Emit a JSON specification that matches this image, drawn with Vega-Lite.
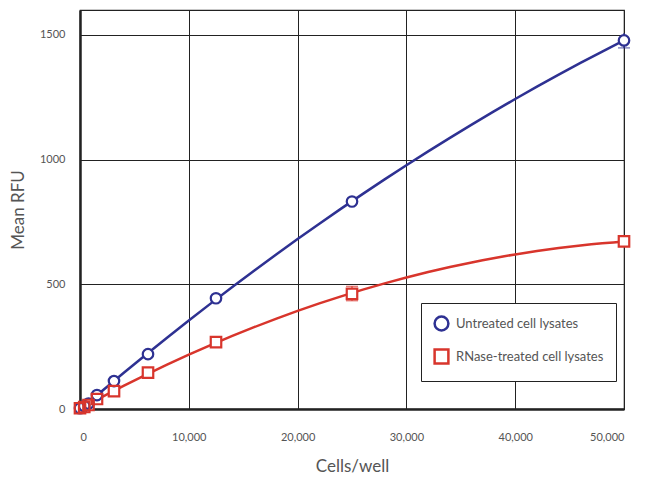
{
  "$schema": "https://vega.github.io/schema/vega-lite/v6.json",
  "autosize": {"type": "none"},
  "width": 544,
  "height": 399,
  "padding": {"left": 80, "top": 10, "right": 23, "bottom": 70},
  "config": {
    "font": "Lato",
    "view": {"stroke": "#222", "strokeWidth": 1.2},
    "axis": {"labelFont": "Lato", "titleFont": "Lato", "labelColor": "#555", "titleColor": "#555", "titleFontWeight": "normal"},
    "legend": {"title": null, "orient": "none", "legendX": 341, "legendY": 293, "padding": 12, "rowPadding": 8, "strokeColor": "#222", "fillColor": "white", "labelFont": "Lato", "labelFontSize": 13, "labelColor": "#555", "labelOffset": 6, "symbolSize": 190, "symbolStrokeWidth": 2.5}
  },
  "data": {
    "values": [
      {"series": "Untreated cell lysates", "cells": 0, "rfu": 3},
      {"series": "Untreated cell lysates", "cells": 390, "rfu": 12},
      {"series": "Untreated cell lysates", "cells": 781, "rfu": 22},
      {"series": "Untreated cell lysates", "cells": 1562, "rfu": 56},
      {"series": "Untreated cell lysates", "cells": 3125, "rfu": 112},
      {"series": "Untreated cell lysates", "cells": 6250, "rfu": 220},
      {"series": "Untreated cell lysates", "cells": 12500, "rfu": 444},
      {"series": "Untreated cell lysates", "cells": 25000, "rfu": 832},
      {"series": "Untreated cell lysates", "cells": 50000, "rfu": 1478, "lo": 1448, "hi": 1508},
      {"series": "RNase-treated cell lysates", "cells": 0, "rfu": 3},
      {"series": "RNase-treated cell lysates", "cells": 390, "rfu": 8},
      {"series": "RNase-treated cell lysates", "cells": 781, "rfu": 16},
      {"series": "RNase-treated cell lysates", "cells": 1562, "rfu": 40},
      {"series": "RNase-treated cell lysates", "cells": 3125, "rfu": 72},
      {"series": "RNase-treated cell lysates", "cells": 6250, "rfu": 146},
      {"series": "RNase-treated cell lysates", "cells": 12500, "rfu": 268},
      {"series": "RNase-treated cell lysates", "cells": 25000, "rfu": 462, "lo": 434, "hi": 492},
      {"series": "RNase-treated cell lysates", "cells": 50000, "rfu": 672}
    ]
  },
  "layer": [
    {
      "transform": [{"regression": "rfu", "on": "cells", "groupby": ["series"], "method": "poly", "order": 2, "extent": [0, 50000]}],
      "mark": {"type": "line", "strokeWidth": 2.5, "clip": true},
      "encoding": {
        "x": {"field": "cells", "type": "quantitative", "scale": {"domain": [0, 50000], "nice": false},
          "axis": {"title": "Cells/well", "values": [0, 10000, 20000, 30000, 40000, 50000], "format": ",d", "grid": true, "gridColor": "#222", "gridOpacity": 1, "gridWidth": 1, "ticks": false, "domainColor": "#222", "domainWidth": 2.5, "labelPadding": 22, "labelFontSize": 11, "titleFontSize": 17, "titlePadding": 16}},
        "y": {"field": "rfu", "type": "quantitative", "scale": {"domain": [0, 1600], "nice": false},
          "axis": {"title": "Mean RFU", "values": [0, 500, 1000, 1500], "format": "d", "grid": true, "gridColor": "#222", "gridOpacity": 1, "gridWidth": 1, "ticks": false, "domainColor": "#222", "domainWidth": 2.5, "labelPadding": 15, "labelFontSize": 11, "titleFontSize": 17, "titlePadding": 12}},
        "color": {"field": "series", "type": "nominal", "scale": {"domain": ["Untreated cell lysates", "RNase-treated cell lysates"], "range": ["#2E3192", "#D8352C"]}}
      }
    },
    {
      "transform": [{"filter": "datum.lo != null"}],
      "mark": {"type": "rule", "strokeWidth": 1.2},
      "encoding": {
        "x": {"field": "cells", "type": "quantitative"},
        "y": {"field": "lo", "type": "quantitative"},
        "y2": {"field": "hi"},
        "color": {"field": "series", "type": "nominal"}
      }
    },
    {
      "transform": [{"filter": "datum.lo != null && datum.cells == 50000"}],
      "mark": {"type": "tick", "orient": "horizontal", "size": 12, "thickness": 1.2, "color": "#2E3192"},
      "encoding": {
        "x": {"field": "cells", "type": "quantitative"},
        "y": {"field": "lo", "type": "quantitative"}
      }
    },
    {
      "transform": [{"filter": "datum.lo != null && datum.cells == 25000"}],
      "mark": {"type": "tick", "orient": "horizontal", "size": 12, "thickness": 1.2, "color": "#D8352C"},
      "encoding": {
        "x": {"field": "cells", "type": "quantitative"},
        "y": {"field": "lo", "type": "quantitative"}
      }
    },
    {
      "transform": [{"filter": "datum.lo != null && datum.cells == 25000"}],
      "mark": {"type": "tick", "orient": "horizontal", "size": 12, "thickness": 1.2, "color": "#D8352C"},
      "encoding": {
        "x": {"field": "cells", "type": "quantitative"},
        "y": {"field": "hi", "type": "quantitative"}
      }
    },
    {
      "transform": [{"filter": "datum.series == 'Untreated cell lysates'"}],
      "mark": {"type": "point", "shape": "circle", "filled": true, "color": "white", "opacity": 1, "size": 110},
      "encoding": {
        "x": {"field": "cells", "type": "quantitative"},
        "y": {"field": "rfu", "type": "quantitative"}
      }
    },
    {
      "transform": [{"filter": "datum.series == 'RNase-treated cell lysates'"}],
      "mark": {"type": "point", "shape": "square", "filled": true, "color": "white", "opacity": 1, "size": 110},
      "encoding": {
        "x": {"field": "cells", "type": "quantitative"},
        "y": {"field": "rfu", "type": "quantitative"}
      }
    },
    {
      "mark": {"type": "point", "filled": false, "strokeWidth": 2.2, "size": 110, "opacity": 1},
      "encoding": {
        "x": {"field": "cells", "type": "quantitative"},
        "y": {"field": "rfu", "type": "quantitative"},
        "color": {"field": "series", "type": "nominal"},
        "shape": {"field": "series", "type": "nominal", "scale": {"domain": ["Untreated cell lysates", "RNase-treated cell lysates"], "range": ["circle", "square"]}}
      }
    }
  ]
}
